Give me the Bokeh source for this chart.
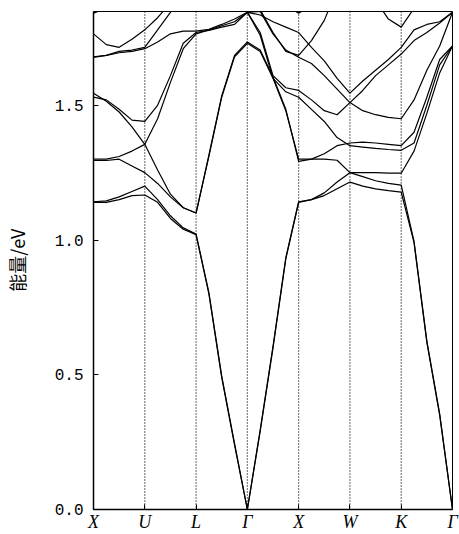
from bokeh.plotting import figure
from bokeh.models import Range1d, FixedTicker, Span
from bokeh.embed import file_html
from bokeh.resources import INLINE

# high-symmetry points along the path
kpoint_pos = [0, 1, 2, 3, 4, 5, 6, 7]
kpoint_labels = ["X", "U", "L", "Γ", "X", "W", "K", "Γ"]

# y ticks
y_ticks = [0.0, 0.5, 1.0, 1.5]
y_tick_labels = ["0.0", "0.5", "1.0", "1.5"]

# sampled wave-vector positions (path coordinate)
k_path = [0.0, 0.25, 0.5, 0.75, 1.0, 1.25, 1.5, 1.75, 2.0, 2.25, 2.5, 2.75, 3.0,
          3.25, 3.5, 3.75, 4.0, 4.25, 4.5, 4.75, 5.0, 5.25, 5.5, 5.75, 6.0,
          6.25, 6.5, 6.75, 7.0]

# band energies (eV)
band_1 = [1.14, 1.14, 1.15, 1.165, 1.167, 1.14, 1.08, 1.04, 1.02, 0.80, 0.49, 0.24, 0.0,
          0.29, 0.60, 0.93, 1.14, 1.15, 1.165, 1.19, 1.215, 1.20, 1.19, 1.183, 1.178,
          0.99, 0.62, 0.35, 0.0]
band_2 = [1.142, 1.145, 1.16, 1.18, 1.20, 1.15, 1.09, 1.045, 1.022, 0.805, 0.495, 0.245, 0.0,
          0.295, 0.605, 0.935, 1.142, 1.15, 1.175, 1.215, 1.25, 1.25, 1.25, 1.248, 1.248,
          1.33, 1.47, 1.62, 1.72]
band_3 = [1.30, 1.30, 1.31, 1.33, 1.355, 1.26, 1.17, 1.12, 1.10, 1.31, 1.53, 1.68, 1.73,
          1.70, 1.60, 1.48, 1.30, 1.30, 1.30, 1.296, 1.25, 1.235, 1.22, 1.21, 1.204,
          0.995, 0.625, 0.355, 0.0]
band_4 = [1.295, 1.295, 1.30, 1.275, 1.25, 1.21, 1.16, 1.12, 1.10, 1.315, 1.535, 1.685, 1.735,
          1.705, 1.605, 1.485, 1.292, 1.30, 1.32, 1.35, 1.36, 1.363, 1.36, 1.355, 1.35,
          1.40, 1.53, 1.67, 1.72]
band_5 = [1.545, 1.515, 1.475, 1.42, 1.355, 1.45, 1.585, 1.71, 1.765, 1.78, 1.795, 1.81, 1.845,
          1.76, 1.60, 1.55, 1.53, 1.485, 1.44, 1.38, 1.35, 1.345, 1.34, 1.336, 1.333,
          1.36, 1.50, 1.65, 1.72]
band_6 = [1.53, 1.52, 1.485, 1.445, 1.44, 1.50, 1.61, 1.73, 1.77, 1.778, 1.79, 1.80, 1.845,
          1.77, 1.61, 1.565, 1.555, 1.52, 1.48, 1.465, 1.51, 1.555, 1.61, 1.65, 1.69,
          1.74, 1.77, 1.805, 1.845]
band_7 = [1.68, 1.685, 1.70, 1.705, 1.715, 1.78, 1.845, 1.92, 1.95, 1.95, 1.95, 1.95, 1.845,
          1.855, 1.77, 1.70, 1.685, 1.74, 1.815, 1.93, 1.95, 1.95, 1.95, 1.95, 1.95,
          1.95, 1.95, 1.95, 1.95]
band_8 = [1.678, 1.685, 1.695, 1.70, 1.71, 1.735, 1.765, 1.775, 1.775, 1.782, 1.80, 1.82, 1.845,
          1.848, 1.765, 1.705, 1.678, 1.655, 1.61, 1.56, 1.51, 1.48, 1.465, 1.455, 1.45,
          1.52, 1.63, 1.72, 1.845]
band_9 = [1.765, 1.725, 1.715, 1.745, 1.78, 1.825, 1.88, 1.95, 1.97, 1.97, 1.97, 1.95, 1.845,
          1.835, 1.81, 1.79, 1.77, 1.715, 1.665, 1.60, 1.545, 1.59, 1.63, 1.67, 1.715,
          1.78, 1.80, 1.81, 1.845]
band_10 = [1.842, 1.86, 1.95, 1.95, 1.95, 1.95, 1.95, 1.95, 1.95, 1.95, 1.95, 1.95, 1.95,
           1.95, 1.95, 1.87, 1.842, 1.87, 1.95, 1.95, 1.95, 1.95, 1.95, 1.95, 1.95,
           1.95, 1.95, 1.95, 1.95]
band_11 = [1.95, 1.95, 1.95, 1.95, 1.95, 1.95, 1.95, 1.95, 1.95, 1.95, 1.95, 1.95, 1.95,
           1.95, 1.95, 1.95, 1.95, 1.95, 1.95, 1.95, 1.95, 1.95, 1.89, 1.82, 1.79,
           1.86, 1.95, 1.95, 1.95]

bands = [band_1, band_2, band_3, band_4, band_5, band_6, band_7, band_8,
         band_9, band_10, band_11]

p = figure(width=459, height=534,
           x_range=Range1d(0, 7), y_range=Range1d(0, 1.848),
           output_backend="svg", toolbar_location=None,
           min_border_left=92, min_border_right=7,
           min_border_top=11, min_border_bottom=24)

p.background_fill_color = "white"
p.border_fill_color = "white"
p.outline_line_color = "black"
p.outline_line_width = 1
p.grid.visible = False

# dotted guide lines at the inner high-symmetry points
for kp in kpoint_pos[1:-1]:
    p.add_layout(Span(location=kp, dimension="height", line_color="black",
                      line_width=1.2, line_dash="1 2"))

for band in bands:
    p.line(k_path, band, line_color="black", line_width=1.2)

# x axis
p.xaxis.ticker = FixedTicker(ticks=kpoint_pos)
p.xaxis.major_label_overrides = {kp: lab for kp, lab in zip(kpoint_pos, kpoint_labels)}
p.xaxis.major_tick_in = 5
p.xaxis.major_tick_out = 0
p.xaxis.minor_tick_line_color = None
p.xaxis.axis_line_width = 1.5
p.xaxis.axis_line_color = "black"
p.xaxis.major_tick_line_color = "black"
p.xaxis.major_label_text_font = "Liberation Serif"
p.xaxis.major_label_text_font_style = "italic"
p.xaxis.major_label_text_font_size = "18px"
p.xaxis.major_label_text_color = "black"
p.xaxis.major_label_standoff = 2

# y axis
p.yaxis.ticker = FixedTicker(ticks=y_ticks)
p.yaxis.major_label_overrides = {t: lab for t, lab in zip(y_ticks, y_tick_labels)}
p.yaxis.major_tick_in = 5
p.yaxis.major_tick_out = 0
p.yaxis.minor_tick_line_color = None
p.yaxis.axis_line_width = 1.5
p.yaxis.axis_line_color = "black"
p.yaxis.major_tick_line_color = "black"
p.yaxis.major_label_text_font = "Liberation Mono"
p.yaxis.major_label_text_font_size = "16px"
p.yaxis.major_label_text_color = "black"
p.yaxis.major_label_standoff = 10
p.yaxis.axis_label = "能量/eV"
p.yaxis.axis_label_text_font = "Noto Sans CJK SC"
p.yaxis.axis_label_text_font_style = "normal"
p.yaxis.axis_label_text_font_size = "18px"
p.yaxis.axis_label_text_color = "black"
p.yaxis.axis_label_standoff = 22

open("out.html", "w").write(file_html(p, INLINE))
